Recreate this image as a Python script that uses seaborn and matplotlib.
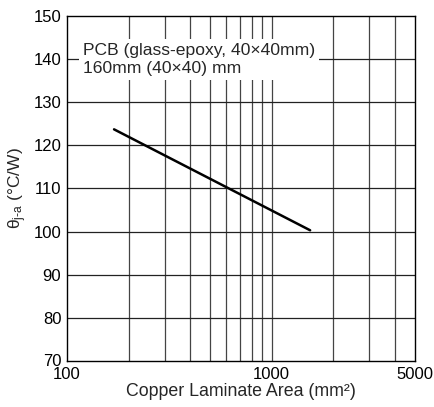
import matplotlib
matplotlib.use("Agg")
import matplotlib.pyplot as plt
import matplotlib.ticker as mticker
import matplotlib.transforms as mtransforms
import pandas as pd
import seaborn as sns

# data
area = [170, 1540]
theta = [123.7, 100.3]
x_ticks = [100, 1000, 5000]
x_grid = [200, 300, 400, 500, 600, 700, 800, 900, 1000, 2000, 3000, 4000]
y_ticks = [70, 80, 90, 100, 110, 120, 130, 140, 150]

sns.set_style("white")
plt.rcParams["font.family"] = ["Liberation Sans", "DejaVu Sans"]
plt.rcParams["mathtext.fontset"] = "custom"
plt.rcParams["mathtext.rm"] = "Liberation Sans"
plt.rcParams["mathtext.it"] = "Liberation Sans:italic"

df = pd.DataFrame({"area": area, "theta": theta})

fig = plt.figure(figsize=(4.34, 4.07), dpi=100)
ax = fig.add_axes([0.154, 0.113, 0.802, 0.848])

ax.set_xscale("log")
ax.set_xlim(100, 5000)
ax.set_ylim(70, 150)

# grid
for g in x_grid:
    ax.axvline(g, color="#444444", lw=0.9, zorder=1)
for g in y_ticks[1:-1]:
    ax.axhline(g, color="#222222", lw=0.9, zorder=1)

sns.lineplot(data=df, x="area", y="theta", color="black", lw=1.8, ax=ax, zorder=3)

ax.xaxis.set_major_locator(mticker.FixedLocator(x_ticks))
ax.xaxis.set_minor_locator(mticker.NullLocator())
ax.xaxis.set_major_formatter(mticker.FixedFormatter([str(t) for t in x_ticks]))
ax.set_yticks(y_ticks)
ax.tick_params(length=0, labelsize=12, colors="black")
ax.tick_params(axis="x", pad=4)
ax.tick_params(axis="y", pad=4)

# lift the "70" label a little so it clears the "100" below
lbl70 = ax.get_yticklabels()[0]
lbl70.set_transform(lbl70.get_transform() + mtransforms.ScaledTranslation(0, 1 / 72, fig.dpi_scale_trans))

for s in ax.spines.values():
    s.set_color("black")
    s.set_linewidth(1.0)
    s.set_zorder(4)

ax.set_xlabel("Copper Laminate Area (mm²)", fontsize=12.8, labelpad=1)
ax.set_ylabel(r"θ$_{\mathrm{j\text{-}a}}$ (°C/W)", fontsize=12.5, labelpad=3)

ax.text(0.046, 0.874, "PCB (glass-epoxy, 40×40mm)\n160mm (40×40) mm",
        transform=ax.transAxes, fontsize=12.6, va="center", ha="left",
        linespacing=1.25, zorder=2,
        bbox=dict(facecolor="white", edgecolor="none", pad=3))

fig.savefig("out.png", dpi=100)
